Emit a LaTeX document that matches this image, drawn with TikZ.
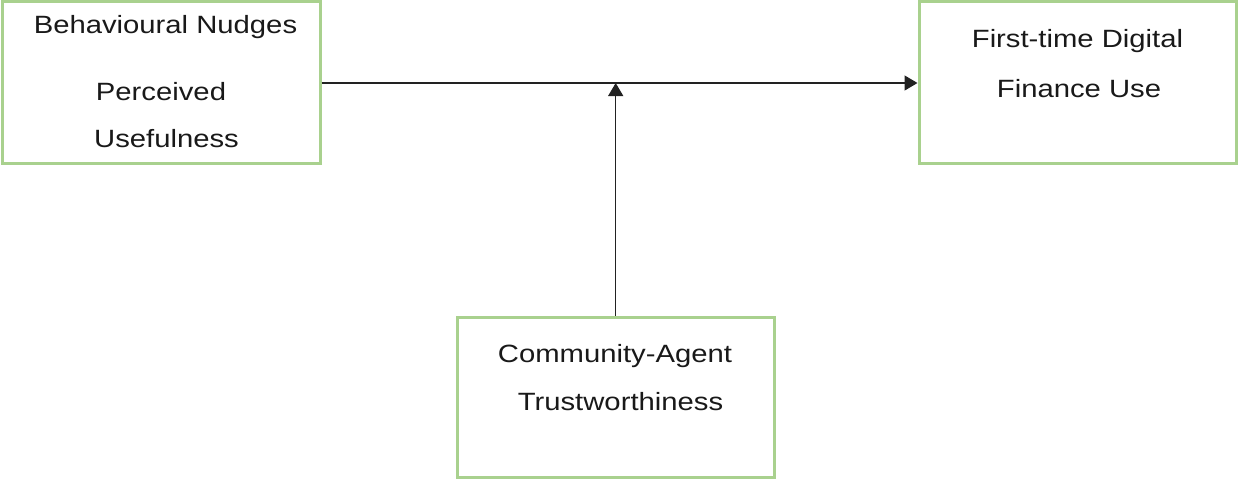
\documentclass[tikz,border=0pt]{standalone}
\usepackage{fontspec}
\setmainfont{Liberation Sans}[FakeStretch=1.17]
\usetikzlibrary{arrows.meta}
\definecolor{boxgreen}{HTML}{A9D18E}
\definecolor{linegray}{HTML}{222222}
\begin{document}
\begin{tikzpicture}[x=1pt,y=-1pt,
  box/.style={draw=boxgreen,line width=3pt,inner sep=0pt},
  lbl/.style={anchor=base,inner sep=0pt,font=\fontsize{25}{30}\selectfont,text=black!90},
  conn/.style={draw=linegray,line width=1.4pt,-{Triangle[length=13pt,width=15pt]}}]
\useasboundingbox (0,0) rectangle (1239,482);
\node[box,minimum width=318pt,minimum height=162pt] (bn) at (161,82) {};
\node[box,minimum width=317pt,minimum height=162pt] (fd) at (1077.5,82) {};
\node[box,minimum width=317pt,minimum height=160pt] (ca) at (615.5,397) {};
\node[lbl] (t1) at (165.5,33) {Behavioural Nudges};
\node[lbl] (t2) at (161,100) {Perceived};
\node[lbl] (t3) at (166.5,147) {Usefulness};
\node[lbl] (t4) at (1077.5,47) {First-time Digital};
\node[lbl] (t5) at (1079,97) {Finance Use};
\node[lbl] (t6) at (615,362) {Community-Agent};
\node[lbl] (t7) at (620.5,410) {Trustworthiness};
\coordinate (mid) at (615.7,83);
\draw[conn] (bn.east |- 0,83) -- (fd.west |- 0,83);
\draw[conn] (ca.north -| mid) -- (mid);
\end{tikzpicture}
\end{document}
